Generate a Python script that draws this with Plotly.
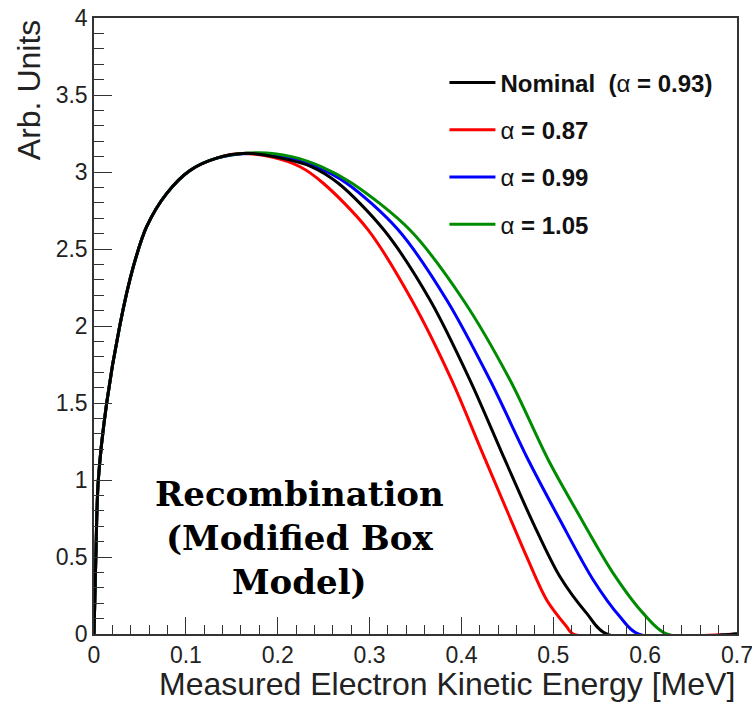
import plotly.graph_objects as go

# shared low-energy rise (all curves coincide here)
rise_x = [0, 0.002, 0.0047, 0.0138, 0.028, 0.0428, 0.0573, 0.079, 0.1045, 0.1336]
rise_y = [0, 0.5, 1.0, 1.5, 2.0, 2.385, 2.645, 2.86, 3.01, 3.09]

# falling parts per recombination parameter
nominal_x = [0.1662, 0.20, 0.2370, 0.2660, 0.3157, 0.3658, 0.4093, 0.4474, 0.4782, 0.5073, 0.5364, 0.5581, 0.7]
nominal_y = [3.121, 3.095, 3.034, 2.927, 2.623, 2.169, 1.649, 1.130, 0.719, 0.372, 0.134, 0.0, 0.0]

a087_x = [0.16, 0.195, 0.2243, 0.2496, 0.2986, 0.3459, 0.3894, 0.4202, 0.4493, 0.4710, 0.4928, 0.5146, 0.5218, 0.7]
a087_y = [3.12, 3.095, 3.034, 2.927, 2.623, 2.169, 1.649, 1.214, 0.805, 0.502, 0.221, 0.047, 0.0, 0.0]

a099_x = [0.172, 0.21, 0.2424, 0.2751, 0.3313, 0.3840, 0.4311, 0.4728, 0.5073, 0.5435, 0.5726, 0.5925, 0.7]
a099_y = [3.12, 3.095, 3.034, 2.927, 2.623, 2.169, 1.649, 1.130, 0.740, 0.351, 0.112, 0.0, 0.0]

a105_x = [0.178, 0.215, 0.2479, 0.2809, 0.3440, 0.4020, 0.4529, 0.4946, 0.5269, 0.5653, 0.5980, 0.6234, 0.7]
a105_y = [3.125, 3.10, 3.034, 2.927, 2.623, 2.169, 1.649, 1.130, 0.784, 0.394, 0.134, 0.0, 0.0]

x_ticks = [0, 0.1, 0.2, 0.3, 0.4, 0.5, 0.6, 0.7]
x_tick_text = ["0", "0.1", "0.2", "0.3", "0.4", "0.5", "0.6", "0.7"]

labels = ["<b>Nominal\u00a0\u00a0(</b>\u03b1<b> = 0.93)</b>",
          "\u03b1<b> = 0.87</b>",
          "\u03b1<b> = 0.99</b>",
          "\u03b1<b> = 1.05</b>"]
colors = ["#000000", "#ff0000", "#0000ff", "#008c00"]

series = [
    (labels[1], a087_x, a087_y, colors[1], 2),
    (labels[2], a099_x, a099_y, colors[2], 3),
    (labels[3], a105_x, a105_y, colors[3], 4),
    (labels[0], nominal_x, nominal_y, colors[0], 1),
]

fig = go.Figure()
for name, fx, fy, col, rank in series:
    fig.add_trace(go.Scatter(
        x=rise_x + fx, y=rise_y + fy, mode="lines", name=name,
        line=dict(color=col, width=3, shape="spline", smoothing=0.9),
        legendgroup=name, legendrank=rank))

axis_common = dict(showline=True, linecolor="#333333", linewidth=1.5, mirror=True,
                   ticks="inside", tickcolor="#333333", showgrid=False, zeroline=False,
                   automargin=False, ticklabeloverflow="allow",
                   tickfont=dict(family="Liberation Sans, Arial", size=23, color="#222"))

fig.update_xaxes(range=[0, 0.7], tickmode="array", tickvals=x_ticks, ticktext=x_tick_text,
                 ticklen=17, tickwidth=1.3,
                 minor=dict(ticks="inside", dtick=0.02, tick0=0, ticklen=9, tickcolor="#333333", tickwidth=1.2),
                 **axis_common)
fig.update_yaxes(range=[0, 4], dtick=0.5, tick0=0, ticklen=18, tickwidth=1.3,
                 minor=dict(ticks="inside", dtick=0.1, ticklen=10, tickcolor="#333333", tickwidth=1.2),
                 **axis_common)

fig.update_layout(
    width=752, height=705,
    margin=dict(l=94, r=15, t=18, b=71),
    paper_bgcolor="white", plot_bgcolor="white",
    showlegend=True,
    legend=dict(x=0.545, y=0.931, xanchor="left", yanchor="top",
                bgcolor="rgba(0,0,0,0)", borderwidth=0,
                font=dict(family="Liberation Sans, Arial", size=24, color="#111"),
                tracegroupgap=13, itemwidth=46),
    annotations=[
        dict(text="Measured Electron Kinetic Energy [MeV]", xref="paper", yref="paper",
             x=1.0, y=-0.048, xanchor="right", yanchor="top", showarrow=False,
             font=dict(family="Liberation Sans, Arial", size=32, color="#222")),
        dict(text="Arb. Units", xref="paper", yref="paper", textangle=-90,
             x=-0.0697, y=1.0, xanchor="right", yanchor="top", showarrow=False,
             font=dict(family="Liberation Sans, Arial", size=32, color="#222")),
        dict(text="<b>Recombination<br>(Modified Box<br>Model)</b>", xref="paper", yref="paper",
             x=0.32, y=0.1555, xanchor="center", yanchor="middle", showarrow=False,
             align="center",
             font=dict(family="DejaVu Serif, Liberation Serif", size=34, color="#000")),
    ],
)

fig.write_html("out.html", config={"displayModeBar": False},
               post_script="document.body.style.margin='0';")
